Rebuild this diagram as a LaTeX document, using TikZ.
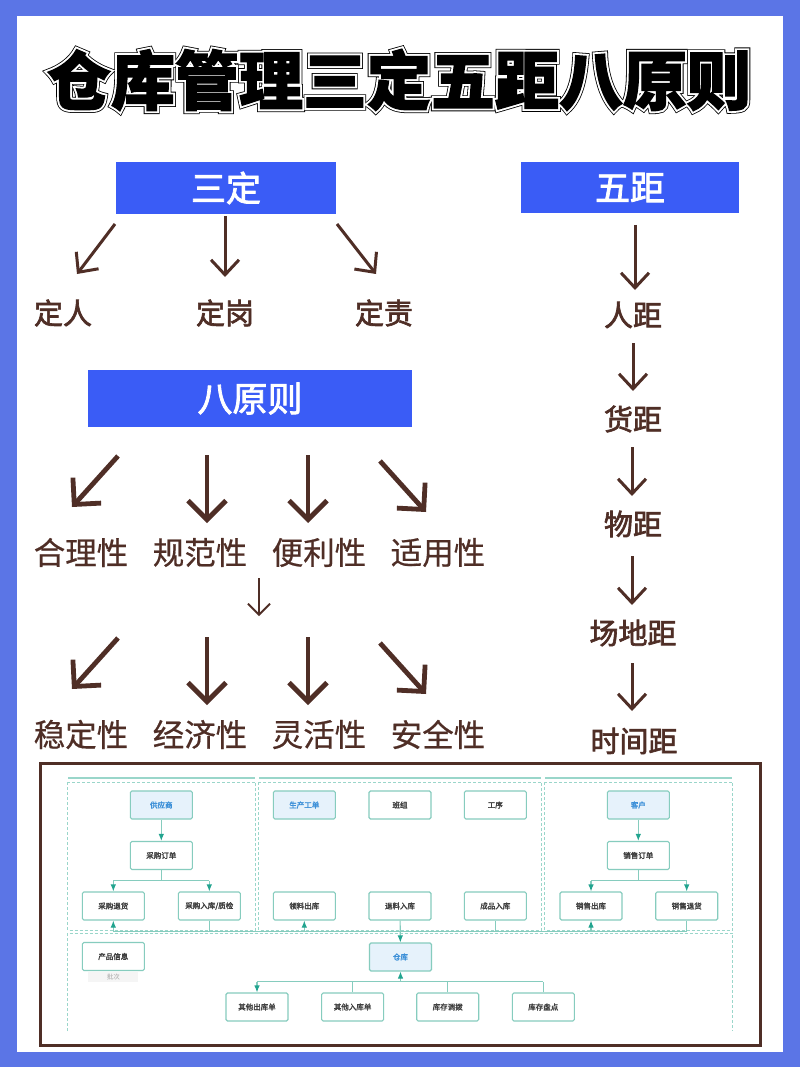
\documentclass[tikz,border=0pt]{standalone}
\usepackage{fontspec}
\usetikzlibrary{arrows.meta}
\setmainfont{Noto Sans CJK SC}
\newfontfamily\ttlcore[BoldFeatures={FakeBold=2}]{Noto Sans CJK SC}
\newfontfamily\ttlmid[BoldFeatures={FakeBold=8}]{Noto Sans CJK SC}
\newfontfamily\ttlout[BoldFeatures={FakeBold=10.5}]{Noto Sans CJK SC}
\newfontfamily\medcjk[FakeBold=2.2]{Noto Sans CJK SC}
\newfontfamily\lightcjk[FakeBold=0.5]{Noto Sans CJK SC}
\newfontfamily\tinycjk[FakeBold=2.5]{Noto Sans CJK SC}
\definecolor{pageblue}{HTML}{5B75E6}
\definecolor{headblue}{HTML}{3A5CF6}
\definecolor{brownink}{HTML}{4F2E26}
\definecolor{tealline}{HTML}{86CCBE}
\definecolor{tealdash}{HTML}{9AD6CA}
\definecolor{tealtip}{HTML}{22A48F}
\definecolor{paleblue}{HTML}{E6F2FB}
\definecolor{linkblue}{HTML}{3C90D8}
\tikzset{
  x=1pt,y=-1pt,
  headbox/.style={fill=headblue,text=white,inner sep=0pt,font=\fontsize{35}{35}\medcjk},
  smalllabel/.style={text=brownink,inner sep=0pt,font=\fontsize{29}{29}\medcjk},
  biglabel/.style={text=brownink,inner sep=0pt,font=\fontsize{31.5}{32}\lightcjk},
  thinarrow/.style={draw=brownink,line width=3pt,-{Straight Barb[length=15pt,width=28pt]}},
  thickarrow/.style={draw=brownink,line width=4.8pt,-{Straight Barb[length=19pt,width=38pt]}},
  tinyarrow/.style={draw=brownink,line width=1.8pt,-{Straight Barb[length=11pt,width=22pt]}},
  flowbox/.style={draw=tealline,line width=1.1pt,rounded corners=1.5pt,fill=white,minimum width=62pt,minimum height=28pt,inner sep=0pt,text=black!75,font=\fontsize{7.5}{8}\tinycjk},
  keybox/.style={flowbox,fill=paleblue,text=linkblue},
  groupline/.style={draw=tealdash,line width=1pt,densely dashed},
  flowline/.style={draw=tealline,line width=1.1pt},
  flowarrow/.style={flowline,-{Latex[length=7pt,width=5.5pt,color=tealtip]}},
}
\begin{document}
\begin{tikzpicture}
\useasboundingbox (0,0) rectangle (800,1067);
\fill[pageblue] (0,0) rectangle (800,1067);
\fill[white] (17,16) rectangle (783,1052);

% title
\node[inner sep=0pt,text=black,font=\fontsize{64}{64}\ttlout\bfseries] at (399,80) {仓库管理三定五距八原则};
\node[inner sep=0pt,text=white,font=\fontsize{64}{64}\ttlmid\bfseries] at (399,80) {仓库管理三定五距八原则};
\node[inner sep=0pt,text=black,font=\fontsize{64}{64}\ttlcore\bfseries] (title) at (399,80) {仓库管理三定五距八原则};

% head boxes
\node[headbox,minimum width=220pt,minimum height=52pt] (sanding) at (226,188) {三定};
\node[headbox,minimum width=218pt,minimum height=51pt] (wuju) at (630,187.5) {五距};
\node[headbox,minimum width=324pt,minimum height=57pt] (bayuanze) at (250,398.5) {八原则};

% three fixes
\node[smalllabel] (dingren) at (63,313) {定人};
\node[smalllabel] (dinggang) at (225,313) {定岗};
\node[smalllabel] (dingze) at (384,313) {定责};
\coordinate (a1s) at (115,224); \coordinate (a1e) at (77,274);
\coordinate (a2s) at (225,216); \coordinate (a2e) at (225,277);
\coordinate (a3s) at (337,224); \coordinate (a3e) at (376,274);
\draw[thinarrow] (a1s) -- (a1e);
\draw[thinarrow] (a2s) -- (a2e);
\draw[thinarrow] (a3s) -- (a3e);

% five distances
\node[smalllabel] (renju) at (633,315) {人距};
\node[smalllabel] (huoju) at (633,419) {货距};
\node[smalllabel] (wuju2) at (633,524) {物距};
\node[smalllabel] (changdi) at (633,633) {场地距};
\node[smalllabel] (shijian) at (634,741) {时间距};
\coordinate (b1s) at (635,225); \coordinate (b1e) at (635,290);
\coordinate (b2s) at (633,343); \coordinate (b2e) at (633,391);
\coordinate (b3s) at (632,447); \coordinate (b3e) at (632,496);
\coordinate (b4s) at (632,556); \coordinate (b4e) at (632,605);
\coordinate (b5s) at (632,663); \coordinate (b5e) at (632,711);
\draw[thinarrow] (b1s) -- (b1e);
\draw[thinarrow] (b2s) -- (b2e);
\draw[thinarrow] (b3s) -- (b3e);
\draw[thinarrow] (b4s) -- (b4e);
\draw[thinarrow] (b5s) -- (b5e);

% eight principles
\node[biglabel] (p1) at (81,552.5) {合理性};
\node[biglabel] (p2) at (200,552.5) {规范性};
\node[biglabel] (p3) at (319,552.5) {便利性};
\node[biglabel] (p4) at (438,552.5) {适用性};
\node[biglabel] (p5) at (81,734.5) {稳定性};
\node[biglabel] (p6) at (200,734.5) {经济性};
\node[biglabel] (p7) at (319,734.5) {灵活性};
\node[biglabel] (p8) at (438,734.5) {安全性};
\coordinate (c1s) at (118,456); \coordinate (c1e) at (72,507);
\coordinate (c2s) at (207,455); \coordinate (c2e) at (207,523);
\coordinate (c3s) at (308,455); \coordinate (c3e) at (308,523);
\coordinate (c4s) at (380,461); \coordinate (c4e) at (426,512);
\coordinate (c5s) at (118,638); \coordinate (c5e) at (72,689);
\coordinate (c6s) at (207,637); \coordinate (c6e) at (207,705);
\coordinate (c7s) at (308,637); \coordinate (c7e) at (308,705);
\coordinate (c8s) at (380,643); \coordinate (c8e) at (426,694);
\coordinate (mids) at (259,578); \coordinate (mide) at (259,616);
\draw[thickarrow] (c1s) -- (c1e);
\draw[thickarrow] (c2s) -- (c2e);
\draw[thickarrow] (c3s) -- (c3e);
\draw[thickarrow] (c4s) -- (c4e);
\draw[thickarrow] (c5s) -- (c5e);
\draw[thickarrow] (c6s) -- (c6e);
\draw[thickarrow] (c7s) -- (c7e);
\draw[thickarrow] (c8s) -- (c8e);
\draw[tinyarrow] (mids) -- (mide);

% embedded flow chart
\draw[brownink,line width=3pt] (40.5,763) rectangle (760,1045);
\draw[groupline] (67.5,782) rectangle (255.5,930);
\draw[groupline] (258.5,782) rectangle (541.5,930);
\draw[groupline] (544.5,782) rectangle (732.5,930);
\draw[groupline] (67.5,1031) -- (67.5,933) -- (732.5,933) -- (732.5,1031);
\draw[tealdash,line width=1.2pt] (68,778) -- (255,778);
\draw[tealdash,line width=1.2pt] (259,778) -- (541,778);
\draw[tealdash,line width=1.2pt] (545,778) -- (732,778);

\node[keybox] (gys) at (161.3,805) {供应商};
\node[flowbox] (cgdd) at (161.3,855.5) {采购订单};
\node[flowbox] (cgth) at (113.3,906) {采购退货};
\node[flowbox] (cgrk) at (209.3,906) {采购入库/质检};
\node[keybox] (scgd) at (304.3,805) {生产工单};
\node[flowbox] (bz) at (400,805) {班组};
\node[flowbox] (gx) at (495.3,805) {工序};
\node[flowbox] (llck) at (304.3,906) {领料出库};
\node[flowbox] (tlrk) at (400,906) {退料入库};
\node[flowbox] (cprk) at (495.3,906) {成品入库};
\node[keybox] (kh) at (638.3,805) {客户};
\node[flowbox] (xsdd) at (638.3,855.5) {销售订单};
\node[flowbox] (xsck) at (591,906) {销售出库};
\node[flowbox] (xsth) at (686.7,906) {销售退货};
\node[flowbox] (cpxx) at (113.3,956.5) {产品信息};
\node[keybox] (ck) at (400.5,957) {仓库};
\node[flowbox] (qtck) at (257,1007) {其他出库单};
\node[flowbox] (qtrk) at (352.6,1007) {其他入库单};
\node[flowbox] (kcdb) at (447.7,1007) {库存调拨};
\node[flowbox] (kcpd) at (543.3,1007) {库存盘点};
\node[fill=black!4,text=black!35,minimum width=50pt,minimum height=10pt,inner sep=0pt,font=\fontsize{6.5}{7}\selectfont] (pici) at (113.3,977) {批次};

\coordinate (busA) at (0,880.5);
\coordinate (busB) at (0,931.5);
\coordinate (busC) at (0,981.7);
\draw[flowarrow] (gys) -- (cgdd);
\draw[flowline] (cgdd.south) -- (cgdd.south |- busA);
\draw[flowarrow] (cgth.north |- busA) -- (cgth.north);
\draw[flowarrow] (cgrk.north |- busA) -- (cgrk.north);
\draw[flowline] (cgth.north |- busA) -- (cgrk.north |- busA);
\draw[flowarrow] (kh) -- (xsdd);
\draw[flowline] (xsdd.south) -- (xsdd.south |- busA);
\draw[flowarrow] (xsck.north |- busA) -- (xsck.north);
\draw[flowarrow] (xsth.north |- busA) -- (xsth.north);
\draw[flowline] (xsck.north |- busA) -- (xsth.north |- busA);
\draw[flowline,line width=1.4pt] (cgth.south |- busB) -- (xsth.south |- busB);
\draw[flowarrow] (cgth.south |- busB) -- (cgth.south);
\draw[flowline] (cgrk.south) -- (cgrk.south |- busB);
\draw[flowarrow] (llck.south |- busB) -- (llck.south);
\draw[flowarrow] (tlrk) -- (ck);
\draw[flowline] (cprk.south) -- (cprk.south |- busB);
\draw[flowarrow] (xsck.south |- busB) -- (xsck.south);
\draw[flowline] (xsth.south) -- (xsth.south |- busB);
\draw[flowline] (qtck.north |- busC) -- (kcpd.north |- busC);
\draw[flowarrow] (ck.south |- busC) -- (ck.south);
\draw[flowarrow] (qtck.north |- busC) -- (qtck.north);
\draw[flowline] (qtrk.north) -- (qtrk.north |- busC);
\draw[flowline] (kcdb.north) -- (kcdb.north |- busC);
\draw[flowline] (kcpd.north) -- (kcpd.north |- busC);
\end{tikzpicture}
\end{document}
